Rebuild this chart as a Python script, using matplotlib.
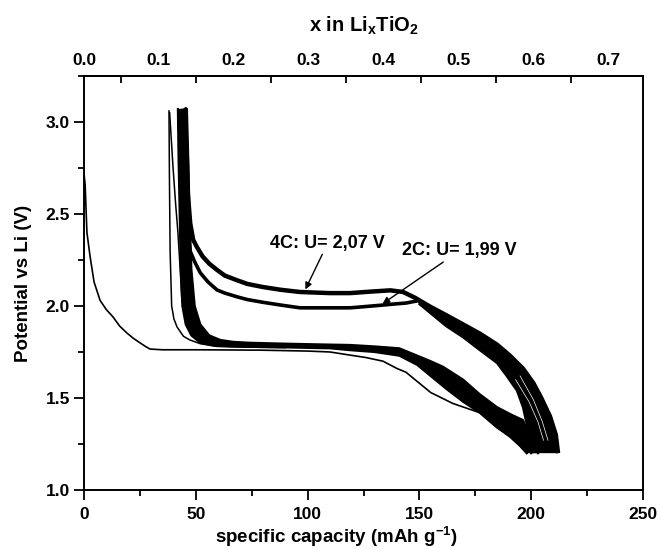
import numpy as np
import matplotlib
matplotlib.use('Agg')
import matplotlib.pyplot as plt
from matplotlib.ticker import MultipleLocator, FixedLocator

plt.rcParams['font.family'] = ['Liberation Sans', 'DejaVu Sans']
plt.rcParams['font.weight'] = 'bold'
plt.rcParams['mathtext.fontset'] = 'custom'
plt.rcParams['mathtext.rm'] = 'Liberation Sans:bold'
plt.rcParams['mathtext.bf'] = 'Liberation Sans:bold'
plt.rcParams['mathtext.default'] = 'bf'

# theoretical capacity used for the top axis (mAh/g per 1 Li)
cap_per_li = 335.0

# first discharge (thin)
first_dis_cap = [0.0, 0.5, 1.3, 2.7, 4.5, 7.2, 10.0, 13.0, 16.0, 19.2, 22.0, 25.0, 27.5, 29.5, 35.0,
                 50.0, 78.7, 100.0, 110.0, 119.0, 126.0, 133.7, 140.0, 144.0, 150.0, 155.0, 165.0,
                 177.0, 184.7, 190.5, 195.0, 198.0]
first_dis_v = [2.72, 2.66, 2.40, 2.27, 2.13, 2.03, 1.98, 1.94, 1.89, 1.853, 1.825, 1.80, 1.78, 1.766, 1.762,
               1.762, 1.76, 1.755, 1.75, 1.733, 1.72, 1.70, 1.66, 1.64, 1.58, 1.53, 1.47,
               1.42, 1.34, 1.29, 1.24, 1.20]

# thin early-cycle curves at the left
thin_a_cap = [38.0, 38.2, 38.5, 39.2, 40.2, 41.6, 44.5, 47.4, 52.0, 59.5, 75.0, 90.0]
thin_a_v = [3.06, 2.70, 2.30, 2.00, 1.93, 1.886, 1.835, 1.815, 1.795, 1.78, 1.776, 1.774]
thin_b_cap = [38.3, 39.8, 41.0, 42.0, 43.0, 43.8, 46.0, 49.0]
thin_b_v = [3.05, 2.755, 2.55, 2.40, 2.20, 2.03, 1.91, 1.85]

# charge at 4C (outer edge of charge bundle)
c4_cap = [212.0, 211.0, 208.4, 204.5, 201.0, 196.3, 190.5, 184.7, 177.0, 169.5, 162.0, 155.0, 148.0,
          142.7, 137.0, 128.0, 119.0, 110.0, 96.6, 88.0, 80.0, 73.0, 68.4, 63.0, 59.5, 56.0, 53.0,
          50.5, 48.8, 47.5, 46.5, 46.0, 45.5]
c4_v = [1.20, 1.30, 1.40, 1.50, 1.58, 1.66, 1.73, 1.79, 1.85, 1.90, 1.95, 1.995, 2.045,
        2.076, 2.085, 2.078, 2.07, 2.07, 2.076, 2.088, 2.103, 2.12, 2.14, 2.165, 2.196, 2.23, 2.27,
        2.32, 2.36, 2.45, 2.60, 2.85, 3.075]

# charge at 2C
c2_cap = [150.0, 144.0, 138.0, 133.7, 126.0, 119.0, 110.0, 96.6, 88.0, 80.0, 73.0, 68.4, 63.0, 59.5,
          55.5, 52.0, 49.5, 47.4, 46.0, 45.0, 44.2, 43.5]
c2_v = [2.03, 2.016, 2.01, 2.005, 1.997, 1.99, 1.99, 1.99, 2.005, 2.02, 2.035, 2.05, 2.07, 2.087,
        2.13, 2.18, 2.24, 2.30, 2.45, 2.65, 2.85, 3.07]

# inner edge of the merged charge bundle
c_in_cap = [150.0, 155.0, 162.0, 169.5, 177.0, 184.7, 189.0, 193.6, 196.3, 198.5, 200.0]
c_in_v = [2.01, 1.96, 1.89, 1.83, 1.76, 1.69, 1.62, 1.54, 1.45, 1.33, 1.20]

# a few separate charge cycles visible inside the bundle near the bottom
gap1_cap = [193.0, 199.0, 203.0, 205.5]
gap1_v = [1.60, 1.48, 1.37, 1.27]
gap2_cap = [195.0, 201.0, 205.0, 207.5]
gap2_v = [1.62, 1.49, 1.37, 1.27]

# discharge bundle, inner (upper) edge
d_up_cap = [45.5, 46.5, 47.2, 48.0, 49.5, 52.0, 56.0, 61.0, 66.6, 74.0, 90.0, 110.0, 119.0, 130.0,
            141.0, 149.0, 155.0, 160.5, 169.5, 177.0, 184.7, 191.0, 196.3, 199.0, 203.0]
d_up_v = [3.075, 2.80, 2.50, 2.20, 2.00, 1.90, 1.84, 1.815, 1.805, 1.80, 1.795, 1.79, 1.788, 1.78,
          1.77, 1.73, 1.70, 1.67, 1.60, 1.52, 1.45, 1.41, 1.38, 1.30, 1.20]
# discharge bundle, outer (lower) edge
d_lo_cap = [42.0, 42.3, 42.8, 43.3, 44.0, 45.5, 48.0, 52.0, 58.0, 66.6, 74.0, 90.0, 110.0, 119.0,
            130.0, 141.0, 149.0, 155.0, 162.0, 169.5, 177.0, 184.7, 190.5, 195.0, 198.0]
d_lo_v = [3.07, 2.80, 2.50, 2.20, 2.00, 1.90, 1.84, 1.80, 1.785, 1.78, 1.778, 1.775, 1.77, 1.76,
          1.75, 1.73, 1.68, 1.62, 1.55, 1.48, 1.42, 1.34, 1.29, 1.24, 1.20]

fig = plt.figure(figsize=(6.61, 5.49), dpi=100)
ax = fig.add_axes([0.1271, 0.1075, 0.8457, 0.7541])

# bundles
ax.fill(list(c4_cap[:13]) + c_in_cap, list(c4_v[:13]) + c_in_v, color='k', lw=0)
ax.fill(d_up_cap + d_lo_cap[::-1], d_up_v + d_lo_v[::-1], color='k', lw=0)
ax.plot(d_up_cap, d_up_v, color='k', lw=1.6)
ax.plot(d_lo_cap, d_lo_v, color='k', lw=1.6)
ax.plot(c_in_cap, c_in_v, color='k', lw=1.6)
ax.plot(c4_cap, c4_v, color='k', lw=3.2, solid_capstyle='butt')
ax.plot(c2_cap, c2_v, color='k', lw=2.6, solid_capstyle='butt')
ax.plot(gap1_cap, gap1_v, color='w', lw=0.5)
ax.plot(gap2_cap, gap2_v, color='w', lw=0.5)

# thin curves
ax.plot(first_dis_cap, first_dis_v, color='k', lw=1.2)
ax.plot(thin_a_cap, thin_a_v, color='k', lw=1.1)
ax.plot(thin_b_cap, thin_b_v, color='k', lw=1.1)

# annotations
arrow = dict(arrowstyle='-|>', color='k', lw=1.0, mutation_scale=10, shrinkA=0, shrinkB=0)
ax.annotate('4C: U= 2,07 V', xy=(99.0, 2.09), xytext=(109.0, 2.342), ha='center', va='center',
            fontsize=13, fontweight='bold', arrowprops=arrow)
ax.annotate('2C: U= 1,99 V', xy=(133.5, 2.012), xytext=(168.0, 2.30), ha='center', va='center',
            fontsize=13, fontweight='bold', arrowprops=arrow)

ax.set_xlim(0, 250)
ax.set_ylim(1.0, 3.25)
ax.xaxis.set_major_locator(MultipleLocator(50))
ax.xaxis.set_minor_locator(MultipleLocator(25))
ax.yaxis.set_major_locator(MultipleLocator(0.5))
ax.yaxis.set_minor_locator(MultipleLocator(0.25))
ax.yaxis.set_major_formatter(matplotlib.ticker.FormatStrFormatter('%.1f'))
ax.tick_params(axis='both', which='major', direction='out', length=7, width=1.3, labelsize=12.5)
ax.tick_params(axis='x', which='major', pad=5)
ax.tick_params(axis='y', which='major', pad=3)
ax.tick_params(axis='both', which='minor', direction='out', length=4, width=1.3)
ax.tick_params(top=False, right=False, which='both')
for s in ax.spines.values():
    s.set_linewidth(1.4)

sec = ax.secondary_xaxis('top', functions=(lambda c: c / cap_per_li, lambda x: x * cap_per_li))
sec.xaxis.set_major_locator(FixedLocator([0.0, 0.1, 0.2, 0.3, 0.4, 0.5, 0.6, 0.7]))
sec.xaxis.set_minor_locator(FixedLocator([0.05, 0.15, 0.25, 0.35, 0.45, 0.55, 0.65]))
sec.xaxis.set_major_formatter(matplotlib.ticker.FormatStrFormatter('%.1f'))
sec.tick_params(which='major', length=0, labelsize=12.5, pad=6)
sec.tick_params(which='minor', direction='in', length=5, width=1.3)
sec.spines['top'].set_linewidth(1.4)
sec.set_xlabel(r'x in Li$_x$TiO$_2$', fontsize=14.5, fontweight='bold', labelpad=15)

ax.set_xlabel(r'specific capacity (mAh g$^{-1}$)', fontsize=13.5, fontweight='bold', labelpad=3)
ax.xaxis.set_label_coords(0.451, -0.085)
ax.set_ylabel('Potential vs Li (V)', fontsize=13.5, fontweight='bold', labelpad=10)

for lab in ax.get_xticklabels() + ax.get_yticklabels() + sec.get_xticklabels():
    lab.set_fontweight('bold')

fig.savefig('out.png', dpi=100)
